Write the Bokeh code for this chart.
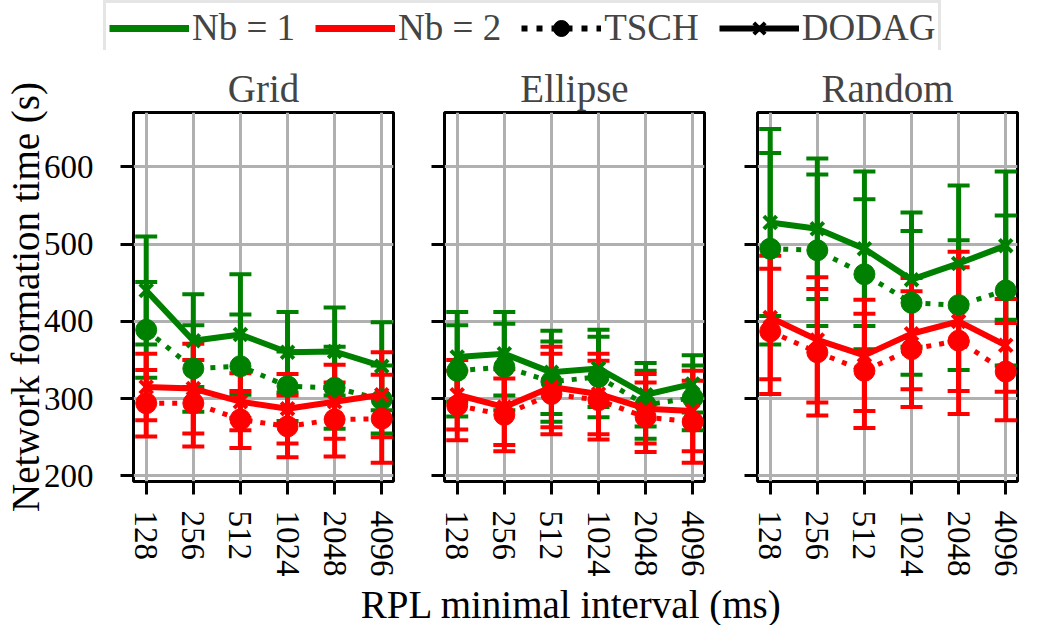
from bokeh.plotting import figure
from bokeh.models import Range1d, FixedTicker, ColumnDataSource, Legend, LegendItem, Label
from bokeh.layouts import column, row
from bokeh.embed import file_html
from bokeh.resources import INLINE

# ---------------- data ----------------
intervals = ["128", "256", "512", "1024", "2048", "4096"]
topologies = ["Grid", "Ellipse", "Random"]
y_ticks = [200, 300, 400, 500, 600]

grid_nb1_dodag = [440, 375, 383, 360, 361, 342]
grid_nb1_dodag_err = [70, 60, 78, 52, 57, 57]
grid_nb1_tsch = [389, 339, 342, 316, 314, 299]
grid_nb1_tsch_err = [62, 56, 67, 45, 53, 44]
grid_nb2_dodag = [315, 313, 296, 287, 296, 305]
grid_nb2_dodag_err = [43, 58, 37, 45, 48, 55]
grid_nb2_tsch = [294, 294, 273, 264, 273, 274]
grid_nb2_tsch_err = [43, 56, 37, 40, 48, 57]

ellipse_nb1_dodag = [354, 358, 334, 339, 305, 319]
ellipse_nb1_dodag_err = [58, 54, 54, 50, 41, 37]
ellipse_nb1_tsch = [336, 341, 322, 328, 292, 301]
ellipse_nb1_tsch_err = [59, 56, 52, 52, 44, 42]
ellipse_nb2_dodag = [305, 289, 315, 306, 287, 284]
ellipse_nb2_dodag_err = [45, 49, 52, 52, 45, 52]
ellipse_nb2_tsch = [291, 279, 306, 298, 276, 270]
ellipse_nb2_tsch_err = [45, 47, 52, 51, 45, 53]

random_nb1_dodag = [528, 520, 494, 454, 475, 498]
random_nb1_dodag_err = [121, 91, 100, 87, 101, 96]
random_nb1_tsch = [494, 492, 461, 424, 421, 440]
random_nb1_tsch_err = [124, 98, 97, 93, 84, 97]
random_nb2_dodag = [405, 376, 356, 384, 400, 369]
random_nb2_dodag_err = [80, 81, 72, 72, 90, 60]
random_nb2_tsch = [387, 360, 336, 364, 375, 335]
random_nb2_tsch_err = [81, 82, 74, 75, 95, 63]

panel_series = {
    "Grid": [(grid_nb1_tsch, grid_nb1_tsch_err, "nb1", "tsch"),
             (grid_nb1_dodag, grid_nb1_dodag_err, "nb1", "dodag"),
             (grid_nb2_tsch, grid_nb2_tsch_err, "nb2", "tsch"),
             (grid_nb2_dodag, grid_nb2_dodag_err, "nb2", "dodag")],
    "Ellipse": [(ellipse_nb1_tsch, ellipse_nb1_tsch_err, "nb1", "tsch"),
                (ellipse_nb1_dodag, ellipse_nb1_dodag_err, "nb1", "dodag"),
                (ellipse_nb2_tsch, ellipse_nb2_tsch_err, "nb2", "tsch"),
                (ellipse_nb2_dodag, ellipse_nb2_dodag_err, "nb2", "dodag")],
    "Random": [(random_nb1_tsch, random_nb1_tsch_err, "nb1", "tsch"),
               (random_nb1_dodag, random_nb1_dodag_err, "nb1", "dodag"),
               (random_nb2_tsch, random_nb2_tsch_err, "nb2", "tsch"),
               (random_nb2_dodag, random_nb2_dodag_err, "nb2", "dodag")],
}

# ---------------- style ----------------
GREEN = "#008000"
RED = "#ff0000"
COLORS = {"nb1": GREEN, "nb2": RED}
FONT = "Liberation Serif"
TICK_SIZE = "33px"
LABEL_SIZE = "39px"
GRID_COLOR = "#b0b0b0"
FRAME_W = 260
FRAME_H = 369
BORDERS = [(130, 25), (26, 26), (27, 9)]
TOP = 62
BOTTOM = 102
LEG_H = 50
LEG_LEFT = 103
BOT_H = 42

xs = list(range(len(intervals)))


def make_panel(idx, topo):
    bl, br = BORDERS[idx]
    p = figure(frame_width=FRAME_W, frame_height=FRAME_H,
               x_range=Range1d(-0.27, len(intervals) - 0.75),
               y_range=Range1d(192.7, 670.4),
               output_backend="svg", toolbar_location=None,
               min_border_left=bl, min_border_right=br,
               min_border_top=TOP, min_border_bottom=BOTTOM,
               title=topo)
    p.title.align = "center"
    p.title.text_font = FONT
    p.title.text_font_size = LABEL_SIZE
    p.title.text_font_style = "normal"
    p.title.standoff = 6
    p.outline_line_color = "black"
    p.outline_line_width = 3
    p.outline_line_alpha = 1
    p.background_fill_color = "white"
    p.border_fill_color = "white"

    for g in (p.xgrid, p.ygrid):
        g.grid_line_color = GRID_COLOR
        g.grid_line_width = 3

    p.xaxis.ticker = FixedTicker(ticks=xs)
    p.xaxis.major_label_overrides = {i: lab for i, lab in enumerate(intervals)}
    p.xaxis.major_label_orientation = "vertical"
    p.yaxis.ticker = FixedTicker(ticks=y_ticks)

    for ax in (p.xaxis, p.yaxis):
        ax.axis_line_color = None
        ax.major_tick_line_width = 3
        ax.major_tick_line_color = "black"
        ax.major_tick_out = 13
        ax.major_tick_in = 0
        ax.minor_tick_out = 0
        ax.minor_tick_in = 0
        ax.major_label_text_font = FONT
        ax.major_label_text_font_size = TICK_SIZE
        ax.major_label_text_color = "black"
        ax.axis_label_text_font = FONT
        ax.axis_label_text_font_size = LABEL_SIZE
        ax.axis_label_text_font_style = "normal"
        ax.axis_label_text_color = "black"
    p.xaxis.major_label_standoff = 16

    if idx == 0:
        p.yaxis.axis_label = "Network formation time (s)"
        p.yaxis.major_label_standoff = 27
        p.yaxis.axis_label_standoff = -6
    else:
        p.yaxis.major_label_overrides = {v: "" for v in y_ticks}
        p.yaxis.major_label_standoff = 0

    sources = []
    for vals, errs, nb, kind in panel_series[topo]:
        src = ColumnDataSource(dict(
            x=xs, y=vals,
            lo=[v - e for v, e in zip(vals, errs)],
            hi=[v + e for v, e in zip(vals, errs)],
        ))
        sources.append((src, nb, kind))

    # error bars first (matplotlib draws bars below the data lines)
    for src, nb, kind in sources:
        c = COLORS[nb]
        p.segment(x0="x", y0="lo", x1="x", y1="hi", source=src,
                  line_color=c, line_width=5)
        p.scatter(x="x", y="hi", source=src, marker="dash", size=22,
                  line_color=c, line_width=4)
        p.scatter(x="x", y="lo", source=src, marker="dash", size=22,
                  line_color=c, line_width=4)

    # data lines + markers
    for src, nb, kind in sources:
        c = COLORS[nb]
        if kind == "tsch":
            p.line(x="x", y="y", source=src, line_color=c, line_width=5,
                   line_dash="5 8", line_cap="butt")
            p.scatter(x="x", y="y", source=src, marker="circle", size=21,
                      fill_color=c, line_color=c, line_width=1)
        else:
            p.line(x="x", y="y", source=src, line_color=c, line_width=6)
            p.scatter(x="x", y="y", source=src, marker="x", size=18,
                      line_color=c, line_width=4)
    return p


panels = [make_panel(i, t) for i, t in enumerate(topologies)]
total_w = sum(bl + FRAME_W + br for bl, br in BORDERS)

# ---------------- legend figure ----------------
leg = figure(width=total_w, height=LEG_H, x_range=Range1d(0, 1), y_range=Range1d(0, 1),
             output_backend="svg", toolbar_location=None,
             x_axis_type=None, y_axis_type=None,
             min_border_left=LEG_LEFT, min_border_right=0, min_border_top=0, min_border_bottom=0)
leg.outline_line_color = None
leg.grid.visible = False
# legend proxies lie outside the visible range
proxy = dict(x=[-3, -2], y=[-3, -3])
r_g = leg.line(x="x", y="y", source=ColumnDataSource(proxy), line_color=GREEN, line_width=7)
r_r = leg.line(x="x", y="y", source=ColumnDataSource(proxy), line_color=RED, line_width=7)
r_tl = leg.line(x="x", y="y", source=ColumnDataSource(proxy), line_color="black",
                line_width=6, line_dash="6 9", line_cap="butt")
r_tm = leg.scatter(x="x", y="y", source=ColumnDataSource(proxy), marker="circle",
                   size=20, fill_color="black", line_color="black")
r_dl = leg.line(x="x", y="y", source=ColumnDataSource(proxy), line_color="black", line_width=6)
r_dm = leg.scatter(x="x", y="y", source=ColumnDataSource(proxy), marker="x",
                   size=20, line_color="black", line_width=4)

legend = Legend(items=[
    LegendItem(label="Nb = 1", renderers=[r_g]),
    LegendItem(label="Nb = 2", renderers=[r_r]),
    LegendItem(label="TSCH", renderers=[r_tl, r_tm]),
    LegendItem(label="DODAG", renderers=[r_dl, r_dm]),
], orientation="horizontal", location="top_left", margin=0,
    padding=3, spacing=20, label_standoff=3, glyph_width=80, glyph_height=40,
    label_text_font=FONT, label_text_font_size="37px",
    border_line_color="#cccccc", border_line_width=3,
    background_fill_color="white", background_fill_alpha=1)
leg.add_layout(legend, "center")

# ---------------- shared x-axis label ----------------
# the column aligns this frame with the legend frame, so give it the same left border
bot = figure(width=total_w, height=BOT_H, x_range=Range1d(0, 1), y_range=Range1d(0, 1),
             output_backend="svg", toolbar_location=None,
             x_axis_type=None, y_axis_type=None,
             min_border_left=LEG_LEFT, min_border_right=0, min_border_top=0, min_border_bottom=0)
bot.outline_line_color = None
bot.grid.visible = False
mid_center = BORDERS[0][0] + FRAME_W + BORDERS[0][1] + BORDERS[1][0] + FRAME_W / 2
bot.add_layout(Label(x=mid_center - LEG_LEFT, y=BOT_H / 2, x_units="screen", y_units="screen",
                     text="RPL minimal interval (ms)", text_align="center",
                     text_baseline="middle", text_font=FONT,
                     text_font_size=LABEL_SIZE, text_color="black"))

layout = column(leg, row(*panels), bot)
open("out.html", "w").write(file_html(layout, INLINE))
